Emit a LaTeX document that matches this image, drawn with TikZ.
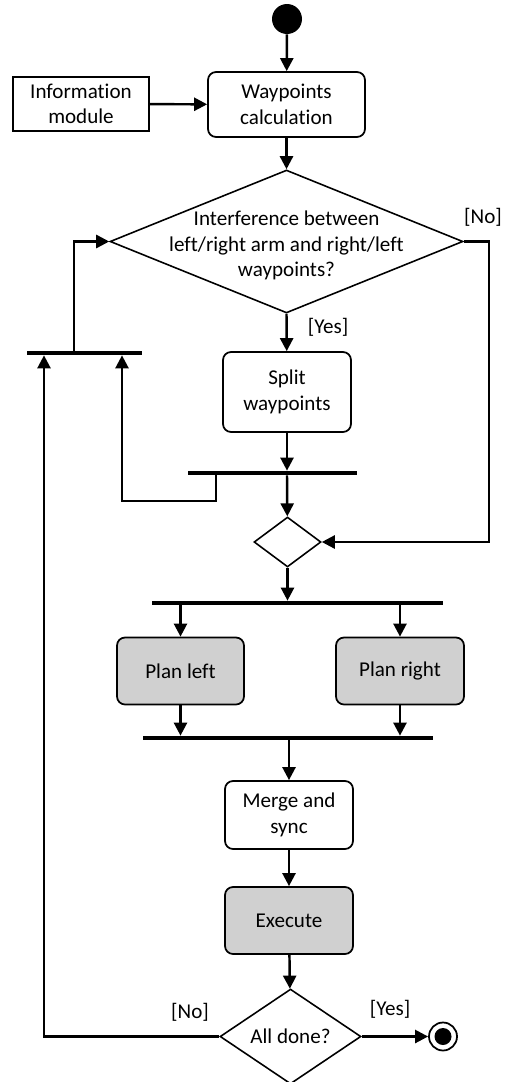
\documentclass[tikz,border=0pt]{standalone}
\usepackage{fontspec}
\setmainfont{Carlito}[Ligatures=NoCommon]
\usetikzlibrary{shapes.geometric,arrows.meta}
\definecolor{act_grey}{RGB}{208, 208, 208}
\tikzstyle{act}=[rectangle,rounded corners=0.16cm,draw=black,
  line width=1pt,align=center,inner sep=2pt]
\tikzstyle{gact}=[act,fill=act_grey]
\tikzstyle{mod}=[rectangle,draw=black,line width=1pt,align=center]
\tikzstyle{dec}=[diamond,draw=black,line width=0.9pt,inner sep=0pt,align=center]
\tikzstyle{bar}=[rectangle,fill=black,inner sep=0pt,minimum height=0.08cm]
\tikzstyle{flow}=[-{Triangle[length=0.26cm,width=0.26cm]},line width=1.4pt]

\begin{document}
\begin{tikzpicture}[x=0.02cm,y=-0.02cm,font=\fontsize{12}{14.5}\selectfont]
    \useasboundingbox (0,0) rectangle (510,1082);
    \node [circle,fill=black,minimum size=0.6cm,inner sep=0pt] (start) at (287,19) {};
    \node [style=mod,minimum width=2.72cm,minimum height=1.08cm] (info) at (81,104) {Information\\module};
    \node [style=act,minimum width=3.14cm,minimum height=1.3cm] (wcalc) at (286.5,104.5) {Waypoints\\calculation};
    \node [style=dec,minimum width=7.06cm,minimum height=2.86cm,
      label={[align=center,yshift=-0.08cm]center:Interference between\\left/right arm and right/left\\waypoints?}] (interf) at (286.5,241.5) {};
    \node (no1) at (483,217) {[No]};
    \node (yes1) at (328,327) {[Yes]};
    \node [style=act,minimum width=2.56cm,minimum height=1.6cm] (split) at (287,392) {Split\\waypoints};
    \node [style=bar,minimum width=3.38cm] (bar1) at (272.5,473) {};
    \node [style=bar,minimum width=2.3cm] (bar2) at (84.5,353) {};
    \node [style=dec,minimum width=1.34cm,minimum height=1cm] (merge1) at (287.5,542) {};
    \node [style=bar,minimum width=5.82cm] (bar3) at (297.5,603) {};
    \node [style=gact,minimum width=2.54cm,minimum height=1.34cm] (pleft) at (180.5,671) {Plan left};
    \node [style=gact,minimum width=2.56cm,minimum height=1.34cm] (pright) at (400,671) {Plan right};
    \node [style=bar,minimum width=5.8cm] (bar4) at (288,738) {};
    \node [style=act,minimum width=2.56cm,minimum height=1.36cm] (sync) at (289,815) {Merge and\\sync};
    \node [style=gact,minimum width=2.56cm,minimum height=1.34cm] (exec) at (289,920.5) {Execute};
    \node [style=dec,minimum width=2.82cm,minimum height=1.66cm] (done) at (290.5,1036.5) {All done?};
    \node (no2) at (190,1012) {[No]};
    \node (yes2) at (390,1009) {[Yes]};
    \node [circle,draw=black,line width=1pt,minimum size=0.56cm,inner sep=0pt] (stop) at (443,1036.5) {};
    \node [circle,fill=black,minimum size=0.34cm,inner sep=0pt] (stopdot) at (stop) {};
    \coordinate (noright) at (489,241.5);
    \coordinate (loopa) at (216,501);
    \coordinate (loopb) at (122,501);
    \coordinate (back) at (74,300);
    \coordinate (noleft) at (44,700);
    \draw [style=flow] (start) to (wcalc);
    \draw [style=flow] (info) to (wcalc);
    \draw [style=flow] (wcalc) to (interf);
    \draw [style=flow] (interf.south) to (split);
    \draw [style=flow] (interf.east) -- (noright) |- (merge1.east);
    \draw [style=flow] (split) to (split |- bar1.north);
    \draw [style=flow] (split |- bar1.south) to (merge1);
    \draw [style=flow] (bar1.south -| loopa) -- (loopa) -- (loopb) -- (loopb |- bar2.south);
    \draw [style=flow] (bar2.north -| back) |- (interf.west);
    \draw [style=flow] (done.west) -| (bar2.south -| noleft);
    \draw [style=flow] (merge1) to (merge1 |- bar3.north);
    \draw [style=flow] (pleft |- bar3.south) to (pleft);
    \draw [style=flow] (pright |- bar3.south) to (pright);
    \draw [style=flow] (pleft) to (pleft |- bar4.north);
    \draw [style=flow] (pright) to (pright |- bar4.north);
    \draw [style=flow] (sync |- bar4.south) to (sync);
    \draw [style=flow] (sync) to (exec);
    \draw [style=flow] (exec) to (done);
    \draw [style=flow] (done) to (stop);
  \end{tikzpicture}
\end{document}
